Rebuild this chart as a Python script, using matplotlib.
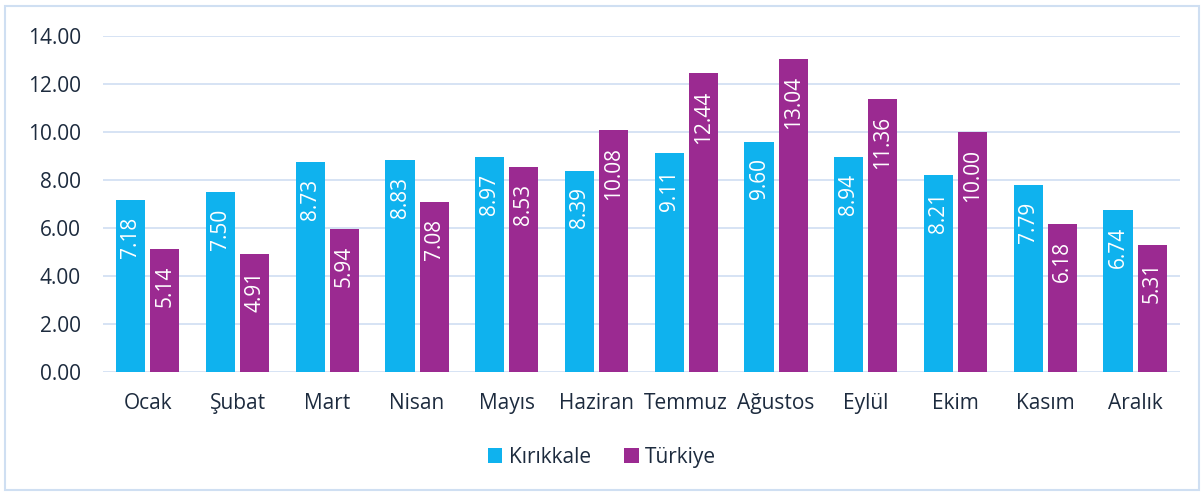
import matplotlib.pyplot as plt
import numpy as np
from matplotlib.patches import Rectangle

aylar = ['Ocak', 'Şubat', 'Mart', 'Nisan', 'Mayıs', 'Haziran', 'Temmuz',
         'Ağustos', 'Eylül', 'Ekim', 'Kasım', 'Aralık']
kirikkale = [7.18, 7.50, 8.73, 8.83, 8.97, 8.39, 9.11, 9.60, 8.94, 8.21, 7.79, 6.74]
turkiye = [5.14, 4.91, 5.94, 7.08, 8.53, 10.08, 12.44, 13.04, 11.36, 10.00, 6.18, 5.31]

plt.rcParams['font.family'] = ['Open Sans', 'DejaVu Sans']
yazi = '#1d2b3e'
mavi = '#0fb2ee'
mor = '#9b2a91'

fig = plt.figure(figsize=(12.04, 4.92), dpi=100)
ax = fig.add_axes([0.0855, 0.2439, 0.8945, 0.6829])

x = np.arange(len(aylar))
w = 0.325
off = 0.19
b1 = ax.bar(x - off, kirikkale, w, color=mavi, label='Kırıkkale', zorder=3)
b2 = ax.bar(x + off, turkiye, w, color=mor, label='Türkiye', zorder=3)

# etiketler cubugun icinde, dikey
for bars, vals in [(b1, kirikkale), (b2, turkiye)]:
    for b, v in zip(bars, vals):
        ax.text(b.get_x() + b.get_width() / 2, v - 0.7, f'{v:.2f}',
                rotation=90, ha='center', va='top', color='white',
                fontsize=15, zorder=4)

ax.set_xlim(-0.5, len(aylar) - 0.5)
ax.set_ylim(0, 14)
ax.set_yticks(np.arange(0, 15, 2))
ax.set_yticklabels([f'{t:.2f}' for t in np.arange(0, 15, 2)])
ax.set_xticks(x)
ax.set_xticklabels(aylar)
ax.tick_params(axis='both', length=0, labelsize=15, colors=yazi)
ax.tick_params(axis='x', pad=15)
ax.tick_params(axis='y', pad=16)
ax.grid(axis='y', color='#d3e1f3', linewidth=1.3, zorder=0)
for s in ax.spines.values():
    s.set_visible(False)

leg = fig.legend(loc='center', bbox_to_anchor=(0.5, 0.07), ncol=2, frameon=False,
                 fontsize=15, handlelength=0.7, handleheight=0.7,
                 handletextpad=0.3, columnspacing=1.6)
for t in leg.get_texts():
    t.set_color(yazi)

fig.patches.append(Rectangle((0.004, 0.004), 0.992, 0.984, transform=fig.transFigure,
                             fill=False, edgecolor='#cfdff2', linewidth=1.5))

fig.savefig('out.png', dpi=100)
